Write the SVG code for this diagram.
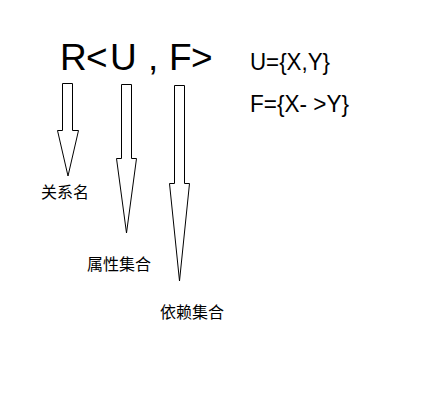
<svg xmlns="http://www.w3.org/2000/svg" width="443" height="412" viewBox="0 0 443 412">
  <style>
    .big { font-family: "Liberation Sans", "Open Sans", sans-serif; font-size: 37px; fill: #000; }
    .mid { font-family: "Liberation Sans", "Open Sans", sans-serif; font-size: 24px; fill: #000; }
    .cn { font-family: "Liberation Sans", "Noto Sans CJK SC", sans-serif; font-size: 16px; fill: #000; }
    .arrow { fill: #fff; stroke: #000; stroke-width: 1; stroke-linejoin: miter; }
  </style>
  <rect width="443" height="412" fill="#fff"/>
  <g id="title">
    <text class="big" y="70"><tspan x="60">R</tspan><tspan x="86">&lt;</tspan><tspan x="110">U</tspan><tspan x="148">,</tspan><tspan x="169">F</tspan><tspan x="191">&gt;</tspan></text>
  </g>
  <g id="definitions">
    <text class="mid" x="250" y="70" textLength="80" lengthAdjust="spacingAndGlyphs">U={X,Y}</text>
    <text class="mid" x="250" y="112" textLength="99" lengthAdjust="spacingAndGlyphs">F={X- &gt;Y}</text>
  </g>
  <g id="connectors">
    <polygon class="arrow" points="62.5,83.5 72.5,83.5 72.5,130.5 78.5,130.5 68,176 57.5,130.5 62.5,130.5"/>
    <polygon class="arrow" points="121.5,84.5 131.5,84.5 131.5,158.5 136.5,158.5 126.5,233 116.5,158.5 121.5,158.5"/>
    <polygon class="arrow" points="174.5,85.5 184.5,85.5 184.5,183.5 189.5,183.5 179.5,281 169.5,183.5 174.5,183.5"/>
  </g>
  <g id="label-relation-name">
    <text class="cn" x="41" y="198">关系名</text>
  </g>
  <g id="label-attribute-set">
    <text class="cn" x="87" y="270">属性集合</text>
  </g>
  <g id="label-dependency-set">
    <text class="cn" x="160" y="318">依赖集合</text>
  </g>
</svg>
